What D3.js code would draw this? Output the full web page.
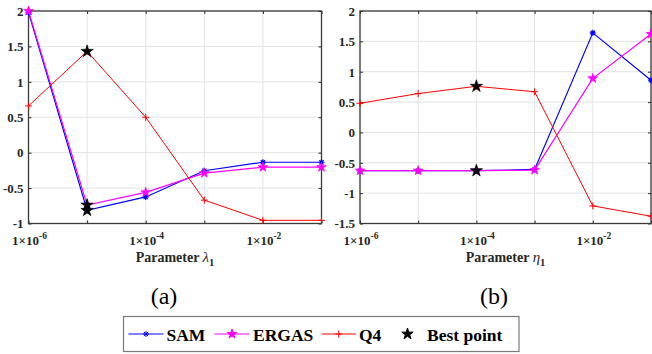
<!DOCTYPE html>
<html><head><meta charset="utf-8">
<script src="https://cdn.jsdelivr.net/npm/d3@7"></script>
</head><body style="margin:0;background:#fff">
<svg id="chart" width="652" height="354" font-family="Liberation Serif" style="display:block"></svg>
<script>
// values
const xVals = [1e-6, 1e-5, 1e-4, 1e-3, 1e-2, 1e-1];
const xTickExps = [-6, -4, -2];

const samLeft   = [1.98, -0.815, -0.625, -0.255, -0.135, -0.135];
const ergasLeft = [2.00, -0.74, -0.56, -0.29, -0.205, -0.205];
const q4Left    = [0.66, 1.43, 0.50, -0.67, -0.955, -0.955];
const bestLeft  = [[1e-5, 1.43], [1e-5, -0.74], [1e-5, -0.815]];
const yTicksLeft = [-1, -0.5, 0, 0.5, 1, 1.5, 2];

const samRight   = [-0.63, -0.63, -0.63, -0.61, 1.64, 0.86];
const ergasRight = [-0.63, -0.63, -0.63, -0.62, 0.89, 1.62];
const q4Right    = [0.48, 0.64, 0.76, 0.67, -1.21, -1.38];
const bestRight  = [[1e-4, 0.76], [1e-4, -0.63]];
const yTicksRight = [-1.5, -1, -0.5, 0, 0.5, 1, 1.5, 2];

const legendNames = ["SAM", "ERGAS", "Q4", "Best point"];
const seriesColors = {SAM: "#0000ff", ERGAS: "#ff00ff", Q4: "#ff0000"};

const root = d3.select("#chart");
const SERIF = "Liberation Serif";

function asteriskPath(r) {
  const a = r * 0.7071;
  return `M${-r},0L${r},0M0,${-r}L0,${r}M${-a},${-a}L${a},${a}M${-a},${a}L${a},${-a}`;
}
function plusPath(r) { return `M${-r},0L${r},0M0,${-r}L0,${r}`; }

function drawPanel(o) {
  const g = root.append("g");
  const x = d3.scaleLog().domain([1e-6, 1e-1]).range([o.x0, o.x1]);
  const y = d3.scaleLinear().domain(o.yDomain).range([o.y1, o.y0]);

  g.selectAll(null).data(xVals).enter().append("line")
    .attr("x1", d => x(d)).attr("x2", d => x(d)).attr("y1", o.y0).attr("y2", o.y1)
    .attr("stroke", "#e3e3e3");
  g.selectAll(null).data(o.yTicks).enter().append("line")
    .attr("x1", o.x0).attr("x2", o.x1).attr("y1", d => y(d)).attr("y2", d => y(d))
    .attr("stroke", "#e3e3e3");

  const ya = g.append("g").attr("transform", `translate(${o.x0},0)`)
    .call(d3.axisLeft(y).tickValues(o.yTicks).tickSizeInner(-3).tickSizeOuter(0).tickPadding(5)
      .tickFormat(d => String(d)));
  ya.attr("font-family", SERIF).attr("font-size", 13).attr("font-weight", "bold");
  ya.select(".domain").remove();
  ya.selectAll("line").attr("stroke", "#262626");
  ya.selectAll("text").attr("fill", "#262626").attr("dy", "0.33em");

  const yr = g.append("g").attr("transform", `translate(${o.x1},0)`)
    .call(d3.axisRight(y).tickValues(o.yTicks).tickSizeInner(-3).tickSizeOuter(0).tickFormat(""));
  yr.select(".domain").remove();
  yr.selectAll("line").attr("stroke", "#262626");

  const xa = g.append("g").attr("transform", `translate(0,${o.y1})`)
    .call(d3.axisBottom(x).tickValues(xVals).tickSizeInner(-3).tickSizeOuter(0).tickFormat(""));
  xa.select(".domain").remove();
  xa.selectAll("line").attr("stroke", "#262626");
  const xt = g.append("g").attr("transform", `translate(0,${o.y0})`)
    .call(d3.axisTop(x).tickValues(xVals).tickSizeInner(-3).tickSizeOuter(0).tickFormat(""));
  xt.select(".domain").remove();
  xt.selectAll("line").attr("stroke", "#262626");

  xTickExps.forEach(e => {
    const t = g.append("text").attr("x", x(Math.pow(10, e)) + 1).attr("y", o.y1 + 21)
      .attr("text-anchor", "middle").attr("font-family", SERIF).attr("font-weight", "bold")
      .attr("font-size", 13).attr("fill", "#262626");
    t.append("tspan").text("1\u00d710");
    t.append("tspan").attr("dy", -6).attr("font-size", 9.5).text("-" + Math.abs(e));
  });

  g.append("rect").attr("x", o.x0).attr("y", o.y0).attr("width", o.x1 - o.x0).attr("height", o.y1 - o.y0)
    .attr("fill", "none").attr("stroke", "#3a3a3a").attr("stroke-width", 1.3);

  const clipId = "clip-" + o.tag;
  root.append("clipPath").attr("id", clipId).append("rect")
    .attr("x", o.x0 - 6).attr("y", o.y0 - 6).attr("width", o.x1 - o.x0 + 12).attr("height", o.y1 - o.y0 + 12);
  const pg = g.append("g").attr("clip-path", `url(#${clipId})`);

  const line = d3.line().x((d, i) => x(xVals[i])).y(d => y(d));
  const starSmall = d3.symbol().type(d3.symbolStar).size(28)();
  const starBig = d3.symbol().type(d3.symbolStar).size(48)();

  pg.append("path").datum(o.sam).attr("d", line).attr("fill", "none").attr("stroke", seriesColors.SAM).attr("stroke-width", 1.2);
  pg.selectAll(null).data(o.sam).enter().append("path")
    .attr("transform", (d, i) => `translate(${x(xVals[i])},${y(d)})`)
    .attr("d", asteriskPath(3)).attr("stroke", seriesColors.SAM).attr("stroke-width", 1.2).attr("fill", "none");
  pg.append("path").datum(o.ergas).attr("d", line).attr("fill", "none").attr("stroke", seriesColors.ERGAS).attr("stroke-width", 1.2);
  pg.selectAll(null).data(o.ergas).enter().append("path")
    .attr("transform", (d, i) => `translate(${x(xVals[i])},${y(d)})`)
    .attr("d", starSmall).attr("stroke", seriesColors.ERGAS).attr("stroke-width", 0.8).attr("fill", seriesColors.ERGAS);
  pg.append("path").datum(o.q4).attr("d", line).attr("fill", "none").attr("stroke", seriesColors.Q4).attr("stroke-width", 1);
  pg.selectAll(null).data(o.q4).enter().append("path")
    .attr("transform", (d, i) => `translate(${x(xVals[i])},${y(d)})`)
    .attr("d", plusPath(3.5)).attr("stroke", seriesColors.Q4).attr("stroke-width", 1).attr("fill", "none");
  pg.selectAll(null).data(o.best).enter().append("path")
    .attr("transform", d => `translate(${x(d[0])},${y(d[1])})`)
    .attr("d", starBig).attr("fill", "#000").attr("stroke", "#000").attr("stroke-width", 0.6);

  const xl = g.append("text").attr("x", (o.x0 + o.x1) / 2).attr("y", 262).attr("text-anchor", "middle")
    .attr("font-family", SERIF).attr("font-weight", "bold").attr("font-size", 14).attr("fill", "#262626");
  xl.append("tspan").text("Parameter ");
  xl.append("tspan").attr("font-style", "italic").attr("font-weight", "normal").attr("font-size", 15).text(o.param);
  xl.append("tspan").attr("dy", 4).attr("font-size", 10.5).text("1");

  root.append("text").attr("x", o.tagX).attr("y", 304).attr("text-anchor", "middle")
    .attr("font-family", SERIF).attr("font-size", 24).attr("fill", "#000").text("(" + o.tag + ")");
}

drawPanel({x0: 28.5, x1: 321.5, y0: 11, y1: 223.5, yDomain: [-1, 2], yTicks: yTicksLeft,
  sam: samLeft, ergas: ergasLeft, q4: q4Left, best: bestLeft, param: "\u03bb", tag: "a", tagX: 164});
drawPanel({x0: 360, x1: 651, y0: 11, y1: 223.5, yDomain: [-1.5, 2], yTicks: yTicksRight,
  sam: samRight, ergas: ergasRight, q4: q4Right, best: bestRight, param: "\u03b7", tag: "b", tagX: 494});

const lg = root.append("g");
lg.append("rect").attr("x", 123.5).attr("y", 316.5).attr("width", 395.5).attr("height", 35)
  .attr("fill", "#fff").attr("stroke", "#7a7a7a").attr("stroke-width", 1.2);
const legY = 334;
const legItems = [
  {name: legendNames[0], lx0: 128.5, lx1: 163.5, tx: 166.5, mk: "ast"},
  {name: legendNames[1], lx0: 214.5, lx1: 249.5, tx: 253, mk: "star"},
  {name: legendNames[2], lx0: 321.5, lx1: 356, tx: 359, mk: "plus"},
  {name: legendNames[3], lx0: null, lx1: null, tx: 427, mk: "best", mx: 407.5}
];
legItems.forEach(it => {
  const col = seriesColors[it.name] || "#000";
  if (it.lx0 !== null) {
    lg.append("line").attr("x1", it.lx0).attr("x2", it.lx1).attr("y1", legY).attr("y2", legY)
      .attr("stroke", col).attr("stroke-width", 1.2);
  }
  const mx = it.mx || (it.lx0 + it.lx1) / 2;
  let d, fill = "none";
  if (it.mk === "ast") d = asteriskPath(3);
  else if (it.mk === "star") { d = d3.symbol().type(d3.symbolStar).size(28)(); fill = col; }
  else if (it.mk === "plus") d = plusPath(3.5);
  else { d = d3.symbol().type(d3.symbolStar).size(40)(); fill = "#000"; }
  lg.append("path").attr("transform", `translate(${mx},${legY})`).attr("d", d)
    .attr("stroke", col).attr("stroke-width", 1).attr("fill", fill);
  lg.append("text").attr("x", it.tx).attr("y", legY + 6.5).attr("font-family", SERIF)
    .attr("font-weight", "bold").attr("font-size", 17.5).attr("fill", "#000").text(it.name);
});
</script>
</body></html>
